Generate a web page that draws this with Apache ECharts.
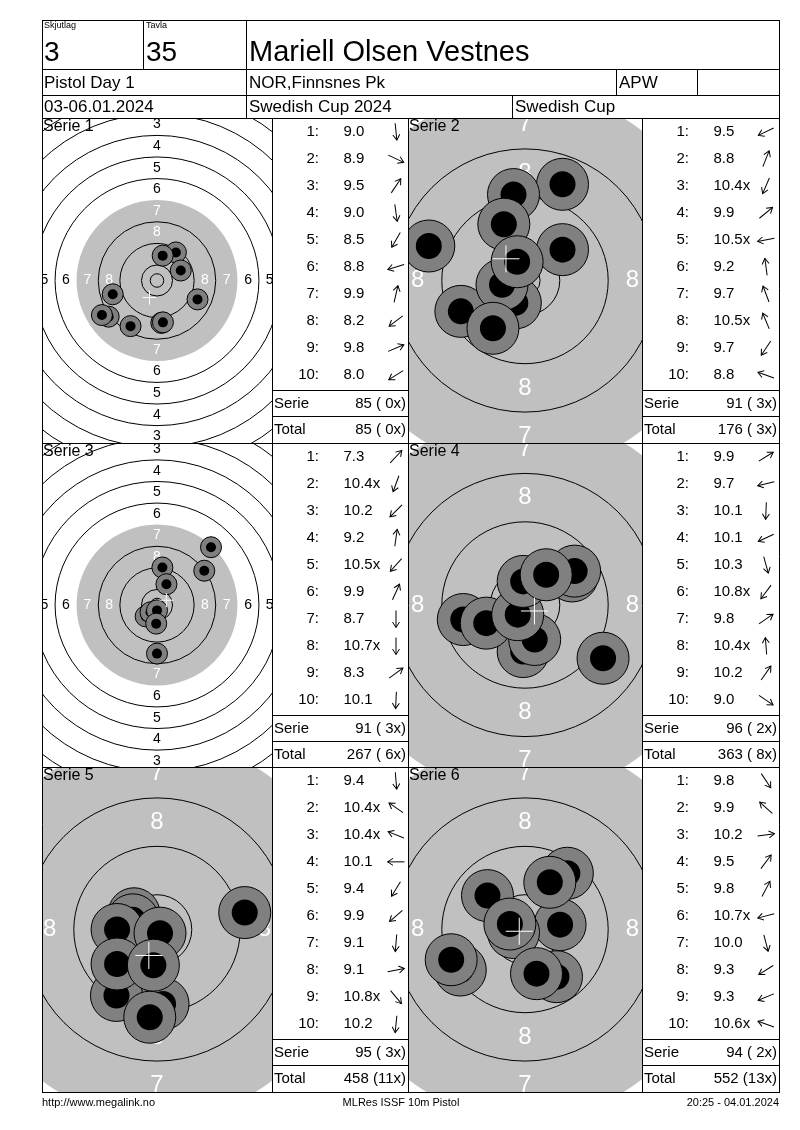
<!DOCTYPE html>
<html><head><meta charset="utf-8">
<script src="https://cdn.jsdelivr.net/npm/echarts@6/dist/echarts.min.js"></script>
<style>html,body{margin:0;padding:0;background:#fff}#c{width:800px;height:1130px}</style>
</head><body><div id="c"></div>
<script>
// ---------------- DATA ----------------
const shooterName = 'Mariell Olsen Vestnes';
const relayLabel = 'Skjutlag', relayValue = '3';
const laneLabel = 'Tavla', laneValue = '35';
const eventName = 'Pistol Day 1', clubName = 'NOR,Finnsnes Pk', className = 'APW';
const dateText = '03-06.01.2024', compName = 'Swedish Cup 2024', cupName = 'Swedish Cup';
const footerLeft = 'http://www.megalink.no', footerMid = 'MLRes ISSF 10m Pistol', footerRight = '20:25 - 04.01.2024';
const serieNames = ['Serie 1', 'Serie 2', 'Serie 3', 'Serie 4', 'Serie 5', 'Serie 6'];

// decimal scores per shot, inner-ten flags
const s1Scores = [9.0, 8.9, 9.5, 9.0, 8.5, 8.8, 9.9, 8.2, 9.8, 8.0];
const s1Inner  = [0, 0, 0, 0, 0, 0, 0, 0, 0, 0];
const s2Scores = [9.5, 8.8, 10.4, 9.9, 10.5, 9.2, 9.7, 10.5, 9.7, 8.8];
const s2Inner  = [0, 0, 1, 0, 1, 0, 0, 1, 0, 0];
const s3Scores = [7.3, 10.4, 10.2, 9.2, 10.5, 9.9, 8.7, 10.7, 8.3, 10.1];
const s3Inner  = [0, 1, 0, 0, 1, 0, 0, 1, 0, 0];
const s4Scores = [9.9, 9.7, 10.1, 10.1, 10.3, 10.8, 9.8, 10.4, 10.2, 9.0];
const s4Inner  = [0, 0, 0, 0, 0, 1, 0, 1, 0, 0];
const s5Scores = [9.4, 10.4, 10.4, 10.1, 9.4, 9.9, 9.1, 9.1, 10.8, 10.2];
const s5Inner  = [0, 1, 1, 0, 0, 0, 0, 0, 1, 0];
const s6Scores = [9.8, 9.9, 10.2, 9.5, 9.8, 10.7, 10.0, 9.3, 9.3, 10.6];
const s6Inner  = [0, 0, 0, 0, 0, 1, 0, 0, 0, 1];

// shot positions in mm from target centre (x right, y up)
const s1X = [1.6, 15.0, 7.0, 2.2, -9.8, -16.4, 2.1, -17.9, 8.8, -20.4];
const s1Y = [-15.7, -7.0, 10.4, -15.5, -16.9, -5.1, 9.2, -13.4, 3.7, -12.8];
const s2X = [-10.6, 6.2, -1.6, 6.2, -3.8, -1.9, -3.5, -1.3, -5.3, -15.9];
const s2Y = [-5.1, 15.9, -3.7, 5.1, -0.7, 14.2, 9.3, 3.1, -7.9, 5.7];
const s3X = [20.0, -1.5, -4.2, 2.0, -2.4, 3.5, 0.0, 0.0, 17.5, -0.3];
const s3Y = [21.4, -4.1, -4.2, 13.9, -2.7, 7.7, -18.0, -2.0, 12.7, -6.9];
const s4X = [7.8, -10.2, -0.3, -6.4, 1.6, -1.2, 8.2, -0.3, 3.5, 12.9];
const s4Y = [4.8, -2.4, -7.7, -3.0, -5.7, -1.6, 5.6, 3.9, 5.0, -8.8];
const s5X = [1.0, -3.8, -4.0, -6.6, -6.7, -6.6, -1.2, 14.5, 0.5, -0.6];
const s5Y = [-12.3, 2.6, 1.6, 0.0, -10.9, -5.7, -14.5, 2.8, -0.6, -5.9];
const s6X = [5.2, -6.2, 5.8, 7.0, 4.1, -1.9, 1.9, -10.7, -12.2, -2.5];
const s6Y = [-7.8, 5.6, 0.8, 9.3, 7.8, -0.5, -7.3, -6.7, -5.0, 0.9];

// ISSF 10m air pistol target (mm)
const ringNums = [1, 2, 3, 4, 5, 6, 7, 8, 9, 10];
const labelRings = [1, 2, 3, 4, 5, 6, 7, 8];
const tenRadius = 5.75, ringStep = 8, innerTenRadius = 2.5;

// ---------------- LAYOUT / STYLE ----------------
const scoresAll = [s1Scores, s2Scores, s3Scores, s4Scores, s5Scores, s6Scores];
const innerAll = [s1Inner, s2Inner, s3Inner, s4Inner, s5Inner, s6Inner];
const xAll = [s1X, s2X, s3X, s4X, s5X, s6X];
const yAll = [s1Y, s2Y, s3Y, s4Y, s5Y, s6Y];

const FF = '"Liberation Sans", Arial, sans-serif';
const wide = {scale: 2.70, aim: 29.8, lblFont: 14, shotR: 10.5, coreR: 5, cross: 7};
const zoom = {scale: 6.05, aim: 31.4, lblFont: 24, shotR: 26, coreR: 13, cross: 13.5};
const panels = [
  {x: 42,  y: 118, w: 230, h: 325, st: wide, tx: 272, tw: 136},
  {x: 408, y: 118, w: 234, h: 325, st: zoom, tx: 642, tw: 137},
  {x: 42,  y: 443, w: 230, h: 324, st: wide, tx: 272, tw: 136},
  {x: 408, y: 443, w: 234, h: 324, st: zoom, tx: 642, tw: 137},
  {x: 42,  y: 767, w: 230, h: 325, st: zoom, tx: 272, tw: 136},
  {x: 408, y: 767, w: 234, h: 325, st: zoom, tx: 642, tw: 137}
];
function ringRadius(n) { return tenRadius + ringStep * (10 - n); }

const grids = [], xAxes = [], yAxes = [], series = [];
panels.forEach((p, i) => {
  const st = p.st;
  const hx = p.w / 2 / st.scale, hy = p.h / 2 / st.scale;
  grids.push({left: p.x, top: p.y, width: p.w, height: p.h, show: false});
  xAxes.push({type: 'value', gridIndex: i, min: -hx, max: hx, show: false});
  yAxes.push({type: 'value', gridIndex: i, min: -hy, max: hy, show: false});
  const common = {type: 'custom', coordinateSystem: 'cartesian2d', xAxisIndex: i, yAxisIndex: i,
    clip: true, silent: true, animation: false};
  // aiming black (drawn light grey)
  series.push(Object.assign({}, common, {z: 1, data: [[0, 0, st.aim]],
    renderItem: (pa, api) => {
      const c = api.coord([api.value(0), api.value(1)]);
      const r = Math.abs(api.size([api.value(2), 0])[0]);
      return {type: 'circle', shape: {cx: c[0], cy: c[1], r: r}, style: {fill: '#c0c0c0', stroke: null}};
    }}));
  // ring lines
  const ringData = ringNums.filter(n => n !== 7).map(n => [0, 0, ringRadius(n)]).concat([[0, 0, innerTenRadius]]);
  series.push(Object.assign({}, common, {z: 2, data: ringData,
    renderItem: (pa, api) => {
      const c = api.coord([api.value(0), api.value(1)]);
      const r = Math.abs(api.size([api.value(2), 0])[0]);
      return {type: 'circle', shape: {cx: c[0], cy: c[1], r: r}, style: {fill: 'none', stroke: '#000', lineWidth: 1}};
    }}));
  // ring numbers
  const lblData = [];
  labelRings.forEach(n => {
    const d = ringRadius(n) - ringStep / 2;
    lblData.push([0, d, n], [0, -d, n], [-d, 0, n], [d, 0, n]);
  });
  series.push(Object.assign({}, common, {z: 3, data: lblData,
    renderItem: (pa, api) => {
      const c = api.coord([api.value(0), api.value(1)]);
      const n = api.value(2);
      return {type: 'text', x: c[0], y: c[1], style: {text: String(n), font: st.lblFont + 'px ' + FF,
        fill: n >= 7 ? '#ffffff' : '#000000', align: 'center', verticalAlign: 'middle',
        textAlign: 'center', textVerticalAlign: 'middle'}};
    }}));
  // shots
  const shotData = xAll[i].map((x, k) => [x, yAll[i][k], k]);
  series.push(Object.assign({}, common, {z: 4, data: shotData,
    renderItem: (pa, api) => {
      const c = api.coord([api.value(0), api.value(1)]);
      const k = api.value(2);
      return {type: 'group', children: [
        {type: 'circle', z2: k * 2, shape: {cx: c[0], cy: c[1], r: st.shotR}, style: {fill: '#808080', stroke: '#000', lineWidth: 1}},
        {type: 'circle', z2: k * 2 + 1, shape: {cx: c[0], cy: c[1], r: st.coreR}, style: {fill: '#000', stroke: null}}
      ]};
    }}));
  // mean point of impact
  const mx = xAll[i].reduce((a, b) => a + b, 0) / xAll[i].length;
  const my = yAll[i].reduce((a, b) => a + b, 0) / yAll[i].length;
  series.push(Object.assign({}, common, {z: 5, data: [[mx, my]],
    renderItem: (pa, api) => {
      const c = api.coord([api.value(0), api.value(1)]);
      const h = st.cross;
      return {type: 'group', children: [
        {type: 'line', shape: {x1: c[0] - h, y1: c[1], x2: c[0] + h, y2: c[1]}, style: {stroke: '#fff', lineWidth: 1}},
        {type: 'line', shape: {x1: c[0], y1: c[1] - h, x2: c[0], y2: c[1] + h}, style: {stroke: '#fff', lineWidth: 1}}
      ]};
    }}));
});

// ---------------- GRAPHIC (form, tables) ----------------
const g = [];
function ln(x1, y1, x2, y2) {
  g.push({type: 'line', z: 100, silent: true, shape: {x1: x1, y1: y1, x2: x2, y2: y2}, style: {stroke: '#000', lineWidth: 1}});
}
function tx(t, x, y, size, align, valign) {
  g.push({type: 'text', z: 101, silent: true, x: x, y: y,
    style: {text: t, font: size + 'px ' + FF, fill: '#000', align: align, verticalAlign: valign,
      textAlign: align, textVerticalAlign: valign}});
}
const L = 42.5, R = 779.5;
[20, 69, 95, 118, 443, 767, 1092].forEach(y => ln(L, y + 0.5, R, y + 0.5));
ln(L, 20, L, 1093); ln(R, 20, R, 1093);
ln(143.5, 20, 143.5, 69.5); ln(246.5, 20, 246.5, 118.5);
ln(616.5, 69.5, 616.5, 95.5); ln(697.5, 69.5, 697.5, 95.5); ln(512.5, 95.5, 512.5, 118.5);
[272.5, 408.5, 642.5].forEach(x => ln(x, 118.5, x, 1092.5));

tx(relayLabel, 44, 21, 9, 'left', 'top');
tx(relayValue, 44, 53, 28, 'left', 'middle');
tx(laneLabel, 146, 21, 9, 'left', 'top');
tx(laneValue, 146, 53, 28, 'left', 'middle');
tx(shooterName, 249, 53, 29, 'left', 'middle');
tx(eventName, 44, 83, 17, 'left', 'middle');
tx(clubName, 249, 83, 17, 'left', 'middle');
tx(className, 619, 83, 17, 'left', 'middle');
tx(dateText, 44, 107.5, 17, 'left', 'middle');
tx(compName, 249, 107.5, 17, 'left', 'middle');
tx(cupName, 515, 107.5, 17, 'left', 'middle');
tx(footerLeft, 42, 1103, 11, 'left', 'middle');
tx(footerMid, 401, 1103, 11, 'center', 'middle');
tx(footerRight, 779, 1103, 11, 'right', 'middle');

let totalPts = 0, totalX = 0;
function pad2(n) { return n < 10 ? ' ' + n : String(n); }
panels.forEach((p, i) => {
  tx(serieNames[i], p.x + 1, p.y + 1, 16, 'left', 'top');
  const y0 = p.y, x0 = p.tx, w = p.tw;
  const sc = scoresAll[i], inn = innerAll[i];
  let sPts = 0, sX = 0;
  sc.forEach((s, k) => {
    const cy = y0 + 13.7 + k * 27.05;
    tx((k + 1) + ':', x0 + 47, cy, 15, 'right', 'middle');
    tx(s.toFixed(1) + (inn[k] ? 'x' : ''), x0 + 71.5, cy, 15, 'left', 'middle');
    const ang = Math.atan2(yAll[i][k], xAll[i][k]);
    g.push({type: 'group', z: 101, silent: true, x: x0 + 124, y: cy, rotation: ang, children: [
      {type: 'line', z: 101, shape: {x1: -8.5, y1: 0, x2: 8.5, y2: 0}, style: {stroke: '#000', lineWidth: 1}},
      {type: 'polyline', z: 101, shape: {points: [[3, -3.5], [8.5, 0], [3, 3.5]]}, style: {stroke: '#000', lineWidth: 1, fill: null}}
    ]});
    sPts += Math.floor(s + 1e-9); sX += inn[k];
  });
  totalPts += sPts; totalX += sX;
  ln(x0, y0 + 272.5, x0 + w, y0 + 272.5);
  ln(x0, y0 + 298.5, x0 + w, y0 + 298.5);
  tx('Serie', x0 + 2, y0 + 285.5, 15, 'left', 'middle');
  tx(sPts + ' (' + pad2(sX) + 'x)', x0 + w - 2, y0 + 285.5, 15, 'right', 'middle');
  tx('Total', x0 + 2, y0 + 312, 15, 'left', 'middle');
  tx(totalPts + ' (' + pad2(totalX) + 'x)', x0 + w - 2, y0 + 312, 15, 'right', 'middle');
});

const chart = echarts.init(document.getElementById('c'), null, {renderer: 'canvas'});
chart.setOption({
  backgroundColor: '#fff',
  animation: false,
  grid: grids, xAxis: xAxes, yAxis: yAxes, series: series,
  graphic: {elements: g}
});
</script></body></html>
